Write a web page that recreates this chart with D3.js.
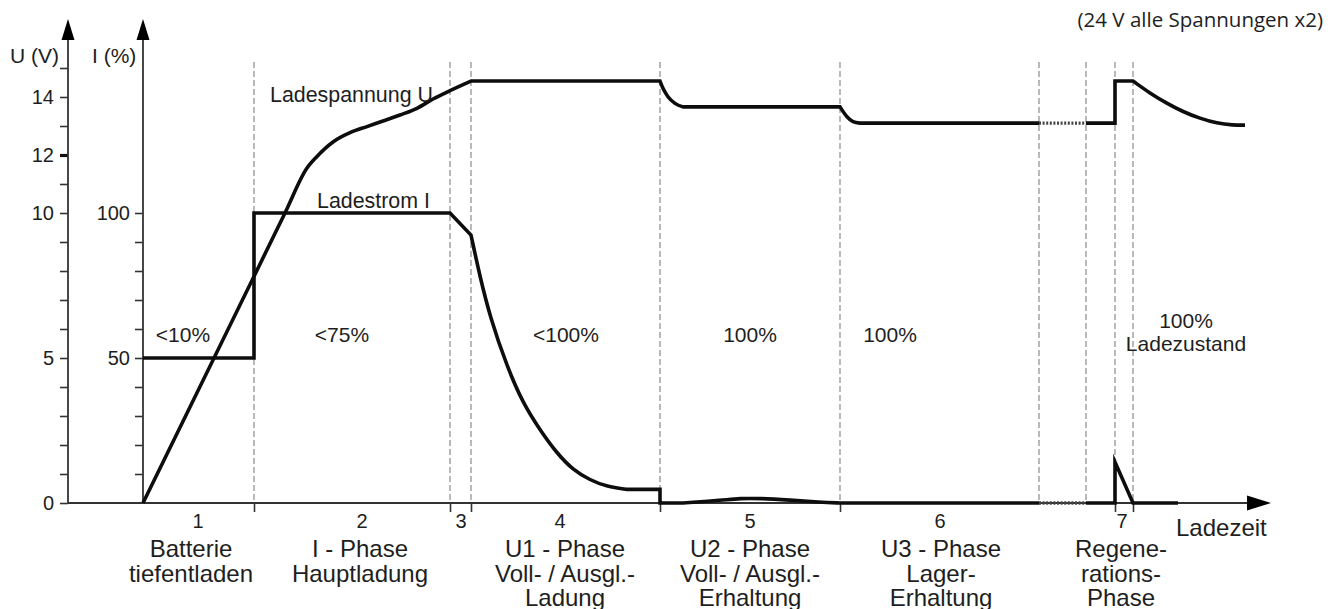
<!DOCTYPE html>
<html>
<head>
<meta charset="utf-8">
<script src="https://cdn.jsdelivr.net/npm/d3@7.9.0/dist/d3.min.js"></script>
<style>
  body { margin: 0; background: #fff; }
  text { font-family: "Liberation Sans", Arial, sans-serif; fill: #1e1e1e; }
</style>
</head>
<body>
<svg id="chart"></svg>
<script>
// --- Data (time in arbitrary units, U in volts, I in percent) ---
const phaseEdges = [11.1, 30.7, 32.8, 51.7, 69.7, 89.6, 94.3, 97.2, 99.0];
const tickedEdges = [11.1, 30.7, 32.8, 51.7, 69.7, 97.2, 99.0];

const phaseNumbers = ["1", "2", "3", "4", "5", "6", "7"];
const phaseNumberT = [5.5, 21.9, 31.8, 41.7, 60.7, 79.7, 97.9];
const phaseTexts = [
  ["Batterie", "tiefentladen"],
  ["I - Phase", "Hauptladung"],
  ["U1 - Phase", "Voll- / Ausgl.-", "Ladung"],
  ["U2 - Phase", "Voll- / Ausgl.-", "Erhaltung"],
  ["U3 - Phase", "Lager-", "Erhaltung"],
  ["Regene-", "rations-", "Phase"]
];
const phaseTextT = [4.8, 21.7, 42.2, 60.7, 79.8, 97.8];

const socLabels = ["<10%", "<75%", "<100%", "100%", "100%"];
const socT = [4.0, 19.9, 42.3, 60.7, 74.7];
const socFinal = ["100%", "Ladezustand"];
const socFinalT = 104.3;

const uTicks = d3.range(0, 16);
const uLabels = [0, 5, 10, 12, 14];
const iTicks = d3.range(10, 101, 10);
const iLabels = [50, 100];

// Ladespannung U
const voltageRise = [[0, 0], [14.2, 10], [16.4, 11.55], [17.4, 11.95], [19.0, 12.45], [20.7, 12.77],
  [22.4, 12.98], [24.0, 13.17], [25.7, 13.38], [27.4, 13.61], [29.0, 13.93], [30.7, 14.22], [32.8, 14.55]];
const voltageAbsorb = [[32.8, 14.55], [51.7, 14.55]];
const voltageDrop1 = [[51.7, 14.55], [52.0, 14.3], [52.5, 14.01], [53.2, 13.78], [54.0, 13.66]];
const voltageFloat = [[54.0, 13.66], [69.7, 13.66]];
const voltageDrop2 = [[69.7, 13.66], [70.4, 13.32], [71.0, 13.15], [71.7, 13.1]];
const voltageStore = [[71.7, 13.1], [89.6, 13.1]];
const voltageGap = [[89.6, 13.1], [94.3, 13.1]];
const voltageRegen = [[94.3, 13.1], [97.2, 13.1], [97.2, 14.55], [99.0, 14.55]];
const voltageSettle = [[99.0, 14.55], [100.7, 14.13], [102.4, 13.78], [104.0, 13.49], [105.7, 13.26],
  [107.4, 13.09], [109.0, 13.03], [110.2, 13.03]];

// Ladestrom I
const currentSteps = [[0, 50], [11.1, 50], [11.1, 100], [30.7, 100], [32.8, 92.4]];
const currentDecay = [[32.8, 92.4], [33.7, 78.0], [34.7, 64.2], [36.4, 47.0], [38.0, 34.4], [39.7, 25.2],
  [41.4, 17.1], [43.0, 11.4], [44.7, 7.9], [46.4, 5.6], [48.4, 4.7]];
const currentTail = [[48.4, 4.7], [51.7, 4.7], [51.7, 0], [54.0, 0]];
const currentBump = [[54.0, 0], [58.0, 1.0], [59.7, 1.6], [61.7, 1.6], [64.7, 1.0], [67.7, 0.3], [69.7, 0]];
const currentFloat = [[69.7, 0], [89.6, 0]];
const currentGap = [[89.6, 0], [94.3, 0]];
const currentPulse = [[94.3, 0], [97.2, 0], [97.2, 14.1], [99.0, 0], [103.5, 0]];

// --- Layout ---
const width = 1339, height = 609;
const svg = d3.select("#chart").attr("width", width).attr("height", height);

const x = d3.scaleLinear().domain([-7.5, 112.5]).range([68, 1268]);
const yU = d3.scaleLinear().domain([0, 15]).range([503, 68]);
const yI = d3.scaleLinear().domain([0, 100]).range([503, 213]);

const axisColor = "#333";
const x0 = x(-7.5), xI = x(0), y0 = yU(0);

// --- Phase separators ---
svg.append("g")
  .selectAll("line")
  .data(phaseEdges)
  .join("line")
  .attr("x1", d => x(d)).attr("x2", d => x(d))
  .attr("y1", 62).attr("y2", y0)
  .attr("stroke", "#8a8a8a")
  .attr("stroke-width", 1.2)
  .attr("stroke-dasharray", "6,3");

// --- Axes ---
const uAxis = svg.append("g")
  .attr("transform", `translate(${x0},0)`)
  .call(d3.axisLeft(yU).tickValues(uTicks).tickSize(8).tickPadding(6)
    .tickFormat(d => uLabels.includes(d) ? d : ""));
const iAxis = svg.append("g")
  .attr("transform", `translate(${xI},0)`)
  .call(d3.axisLeft(yI).tickValues(iTicks).tickSize(8).tickPadding(5)
    .tickFormat(d => iLabels.includes(d) ? d : ""));
const tAxis = svg.append("g")
  .attr("transform", `translate(0,${y0})`)
  .call(d3.axisBottom(x).tickValues(tickedEdges).tickSize(9).tickFormat(""));

[uAxis, iAxis, tAxis].forEach(g => {
  g.select(".domain").remove();
  g.selectAll(".tick line").attr("stroke", axisColor).attr("stroke-width", 1.6);
  g.selectAll(".tick text").attr("font-size", 20).attr("fill", "#1e1e1e")
    .attr("font-family", "Liberation Sans, Arial, sans-serif");
});
uAxis.selectAll(".tick").filter(d => d === 12).select("line").attr("stroke-width", 3.2).attr("stroke", "#111");

// axis lines with arrows
svg.append("line").attr("x1", x0).attr("x2", x0).attr("y1", y0).attr("y2", 38)
  .attr("stroke", axisColor).attr("stroke-width", 1.8);
svg.append("line").attr("x1", xI).attr("x2", xI).attr("y1", y0).attr("y2", 38)
  .attr("stroke", axisColor).attr("stroke-width", 1.8);
svg.append("line").attr("x1", x0).attr("x2", 1250).attr("y1", y0).attr("y2", y0)
  .attr("stroke", axisColor).attr("stroke-width", 1.8);

const arrow = (pts) => svg.append("path").attr("d", "M" + pts.join("L") + "Z").attr("fill", "#000");
arrow([[x0, 19], [x0 - 6.5, 40], [x0 + 6.5, 40]]);
arrow([[xI, 19], [xI - 6.5, 40], [xI + 6.5, 40]]);
arrow([[1271, y0], [1247, y0 - 7.5], [1247, y0 + 7.5]]);

// --- Curves ---
const curves = { mono: d3.curveMonotoneX, basis: d3.curveBasis };
function piecePath(pieces, yScale) {
  return pieces.map((p, i) => {
    const gen = d3.line()
      .x(d => x(d[0])).y(d => yScale(d[1]))
      .curve(curves[p.smooth] || d3.curveLinear);
    const s = gen(p.pts);
    return i === 0 ? s : s.replace(/^M[^A-Za-z]*/, "");
  }).join("");
}

const curveStyle = sel => sel.attr("fill", "none").attr("stroke", "#0d0d0d")
  .attr("stroke-width", 3.6).attr("stroke-linejoin", "miter").attr("stroke-miterlimit", 10);

svg.append("path").call(curveStyle).attr("d", piecePath([
  { pts: voltageRise, smooth: "mono" },
  { pts: voltageAbsorb },
  { pts: voltageDrop1, smooth: "mono" },
  { pts: voltageFloat },
  { pts: voltageDrop2, smooth: "mono" },
  { pts: voltageStore }
], yU));
svg.append("path").call(curveStyle).attr("d", piecePath([
  { pts: voltageRegen },
  { pts: voltageSettle, smooth: "basis" }
], yU));

svg.append("path").call(curveStyle).attr("d", piecePath([
  { pts: currentSteps },
  { pts: currentDecay, smooth: "basis" },
  { pts: currentTail },
  { pts: currentBump, smooth: "basis" },
  { pts: currentFloat }
], yI));
svg.append("path").call(curveStyle).attr("d", piecePath([
  { pts: currentPulse }
], yI));

// dotted gaps
[[voltageGap, yU], [currentGap, yI]].forEach(([pts, ys]) => {
  svg.append("path")
    .attr("d", d3.line().x(d => x(d[0])).y(d => ys(d[1]))(pts))
    .attr("fill", "none").attr("stroke", "#444").attr("stroke-width", 3.4)
    .attr("stroke-dasharray", "2,1.6");
});

// --- Texts ---
svg.append("text").attr("x", 10).attr("y", 63).attr("font-size", 21).text("U (V)");
svg.append("text").attr("x", 92).attr("y", 63).attr("font-size", 21).text("I (%)");
svg.append("text").attr("x", 270).attr("y", 102).attr("font-size", 21.4).text("Ladespannung U");
svg.append("text").attr("x", 317).attr("y", 208).attr("font-size", 21.4).text("Ladestrom I");

svg.append("text")
  .attr("x", 1323).attr("y", 27)
  .attr("text-anchor", "end")
  .attr("font-size", 20.5)
  .style("font-family", "'Open Sans', 'Noto Sans', sans-serif")
  .text("(24 V alle Spannungen x2)");

svg.append("g").selectAll("text")
  .data(socLabels)
  .join("text")
  .attr("x", (d, i) => x(socT[i]))
  .attr("y", yU(5.55))
  .attr("text-anchor", "middle")
  .attr("font-size", 21)
  .text(d => d);

svg.append("g").selectAll("text")
  .data(socFinal)
  .join("text")
  .attr("x", x(socFinalT))
  .attr("y", (d, i) => yU(6.03) + i * 23)
  .attr("text-anchor", "middle")
  .attr("font-size", 21)
  .text(d => d);

svg.append("g").selectAll("text")
  .data(phaseNumbers)
  .join("text")
  .attr("x", (d, i) => x(phaseNumberT[i]))
  .attr("y", 528)
  .attr("text-anchor", "middle")
  .attr("font-size", 20)
  .text(d => d);

const textGroups = svg.append("g").selectAll("g")
  .data(phaseTexts)
  .join("g");
textGroups.selectAll("text")
  .data((d, i) => d.map(line => ({ line, t: phaseTextT[i] })))
  .join("text")
  .attr("x", d => x(d.t))
  .attr("y", (d, j) => 557 + j * 24.5)
  .attr("text-anchor", "middle")
  .attr("font-size", 24)
  .text(d => d.line);

svg.append("text").attr("x", 1176).attr("y", 536).attr("font-size", 24).text("Ladezeit");
</script>
</body>
</html>
